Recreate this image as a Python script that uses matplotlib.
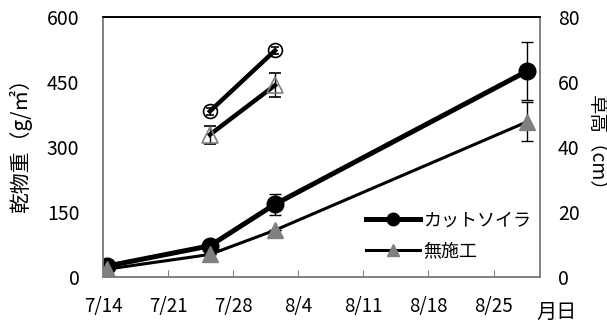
import matplotlib
matplotlib.use('Agg')
import matplotlib.pyplot as plt

plt.rcParams['font.family'] = ['Noto Sans CJK JP', 'DejaVu Sans']

# Days counted from 7/14
tick_days = [0, 7, 14, 21, 28, 35, 42]
tick_labels = ['7/14', '7/21', '7/28', '8/4', '8/11', '8/18', '8/25']

# Dry matter (g/m2), left axis
dm_days = [0.4, 11.5, 18.5, 45.6]
cut_dm = [25, 72, 168, 475]
cut_dm_err = [0, 0, 24, 67]
none_dm = [18, 52, 108, 358]
none_dm_err = [0, 0, 0, 45]

# Plant height (cm), right axis
ht_days = [11.5, 18.5]
cut_ht = [51, 69.7]
cut_ht_err = [1.0, 1.0]
none_ht = [43.8, 59.0]
none_ht_err = [2.8, 3.7]

W, H = 607, 325
fig = plt.figure(figsize=(6.07, 3.25), dpi=100)
ax = fig.add_axes([103 / W, 1 - 277 / H, 437 / W, 260 / H])
ax2 = ax.twinx()

grey = '#808080'

cut = ax.errorbar(dm_days, cut_dm, yerr=cut_dm_err, color='black', lw=3.6,
                  marker='o', ms=12, mfc='black', mec='black',
                  ecolor='black', elinewidth=1, capsize=4, capthick=1,
                  zorder=3)
none = ax.errorbar(dm_days, none_dm, yerr=none_dm_err, color='black', lw=2.2,
                   marker='^', ms=12, mfc=grey, mec=grey,
                   ecolor='black', elinewidth=1, capsize=4, capthick=1,
                   zorder=3)

ax2.errorbar(ht_days, cut_ht, yerr=cut_ht_err, color='black', lw=3.2,
             marker='o', ms=10, mfc='none', mec='black', mew=1.2,
             ecolor='black', elinewidth=1, capsize=3, capthick=1)
ax2.errorbar(ht_days, none_ht, yerr=none_ht_err, color='black', lw=3.2,
             marker='^', ms=11, mfc='none', mec=grey, mew=1.2,
             ecolor='black', elinewidth=1, capsize=4, capthick=1)

ax.set_xlim(0, 47)
ax.set_ylim(0, 600)
ax2.set_ylim(0, 80)
ax.set_yticks([0, 150, 300, 450, 600])
ax2.set_yticks([0, 20, 40, 60, 80])
ax.set_xticks(tick_days)
ax.set_xticklabels(tick_labels)

for a in (ax, ax2):
    for side in ('left', 'right', 'bottom'):
        a.spines[side].set_color(grey)
        a.spines[side].set_linewidth(1.2)
    a.spines['top'].set_color('black')
    a.spines['top'].set_linewidth(1.2)

ax.tick_params(axis='x', direction='in', length=5, color=grey,
               labelsize=13.5, pad=14)
ax.tick_params(axis='y', length=0, labelsize=14, pad=17)
ax2.tick_params(axis='y', length=0, labelsize=14, pad=13)

fig.text(21 / W, 1 - 140 / H, '乾物重（g/㎡）', fontsize=15, rotation=90,
         ha='center', va='center')
fig.text(596 / W, 1 - 148 / H, '草高（cm）', fontsize=14, rotation=270,
         ha='center', va='center')
fig.text(557 / W, 1 - 312 / H, '月日', fontsize=14.5, ha='center', va='center')

# legend uses only the data lines, without the error bar caps
ax.legend([cut.lines[0], none.lines[0]], ['カットソイラ', '無施工'],
          loc='center left', bbox_to_anchor=(366 / W, 1 - 236 / H),
          bbox_transform=fig.transFigure, frameon=False, markerscale=0.75,
          fontsize=13, handlelength=3.0, handletextpad=0.15, labelspacing=0.7,
          borderpad=0, borderaxespad=0)

fig.savefig('out.png', dpi=100)
